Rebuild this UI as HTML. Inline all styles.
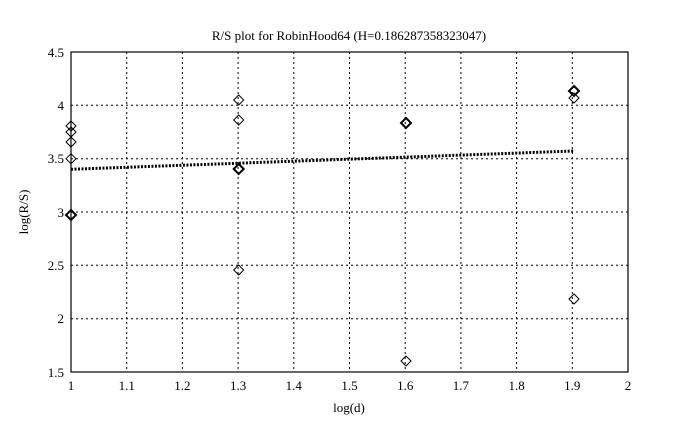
<!DOCTYPE html>
<html><head><style>body{margin:0;background:#fff}</style></head><body>
<svg width="678" height="430" xmlns="http://www.w3.org/2000/svg" font-family="Liberation Serif, serif" font-size="13">
<rect width="678" height="430" fill="#fff"/>
<g stroke="#000" stroke-width="1" stroke-dasharray="2,3">
<line x1="126.7" y1="52" x2="126.7" y2="372"/><line x1="182.4" y1="52" x2="182.4" y2="372"/><line x1="238.1" y1="52" x2="238.1" y2="372"/><line x1="293.8" y1="52" x2="293.8" y2="372"/><line x1="349.5" y1="52" x2="349.5" y2="372"/><line x1="405.2" y1="52" x2="405.2" y2="372"/><line x1="460.9" y1="52" x2="460.9" y2="372"/><line x1="516.6" y1="52" x2="516.6" y2="372"/><line x1="572.3" y1="52" x2="572.3" y2="372"/>
<line x1="71" y1="105.3" x2="628" y2="105.3"/><line x1="71" y1="158.7" x2="628" y2="158.7"/><line x1="71" y1="212" x2="628" y2="212"/><line x1="71" y1="265.3" x2="628" y2="265.3"/><line x1="71" y1="318.7" x2="628" y2="318.7"/>
</g>
<rect x="71" y="52" width="557" height="320" fill="none" stroke="#000" stroke-width="1.2"/>
<line x1="71" y1="169.3" x2="574" y2="151" stroke="#000" stroke-width="3" stroke-dasharray="2,1.5"/>
<g fill="none" stroke="#000" stroke-width="1">
<path id="d" d="M0,-5 L5,0 L0,5 L-5,0Z" transform="translate(71,126)"/>
<path d="M0,-5 L5,0 L0,5 L-5,0Z" transform="translate(71,132)"/>
<path d="M0,-5 L5,0 L0,5 L-5,0Z" transform="translate(71,142)"/>
<path d="M0,-5 L5,0 L0,5 L-5,0Z" transform="translate(71,158.7)"/>
<path d="M0,-5 L5,0 L0,5 L-5,0Z" transform="translate(71,215)" stroke-width="2"/>
<path d="M0,-5 L5,0 L0,5 L-5,0Z" transform="translate(238.7,100)"/>
<path d="M0,-5 L5,0 L0,5 L-5,0Z" transform="translate(238.7,120)"/>
<path d="M0,-5 L5,0 L0,5 L-5,0Z" transform="translate(238.7,169)" stroke-width="2"/>
<path d="M0,-5 L5,0 L0,5 L-5,0Z" transform="translate(238.7,270)"/>
<path d="M0,-5 L5,0 L0,5 L-5,0Z" transform="translate(406,123)" stroke-width="2"/>
<path d="M0,-5 L5,0 L0,5 L-5,0Z" transform="translate(406,361)"/>
<path d="M0,-5 L5,0 L0,5 L-5,0Z" transform="translate(574,91)" stroke-width="2"/>
<path d="M0,-5 L5,0 L0,5 L-5,0Z" transform="translate(574,98)"/>
<path d="M0,-5 L5,0 L0,5 L-5,0Z" transform="translate(574,299)"/>
</g>
<g text-anchor="middle">
<text x="71" y="390">1</text><text x="126.7" y="390">1.1</text><text x="182.4" y="390">1.2</text><text x="238.1" y="390">1.3</text><text x="293.8" y="390">1.4</text><text x="349.5" y="390">1.5</text><text x="405.2" y="390">1.6</text><text x="460.9" y="390">1.7</text><text x="516.6" y="390">1.8</text><text x="572.3" y="390">1.9</text><text x="628" y="390">2</text>
<text x="349" y="412">log(d)</text>
<text x="349" y="40">R/S plot for RobinHood64 (H=0.186287358323047)</text>
</g>
<g text-anchor="end">
<text x="64" y="57">4.5</text><text x="64" y="110">4</text><text x="64" y="163">3.5</text><text x="64" y="217">3</text><text x="64" y="270">2.5</text><text x="64" y="323">2</text><text x="64" y="377">1.5</text>
</g>
<text transform="translate(28,212) rotate(-90)" text-anchor="middle">log(R/S)</text>
</svg>
</body></html>
